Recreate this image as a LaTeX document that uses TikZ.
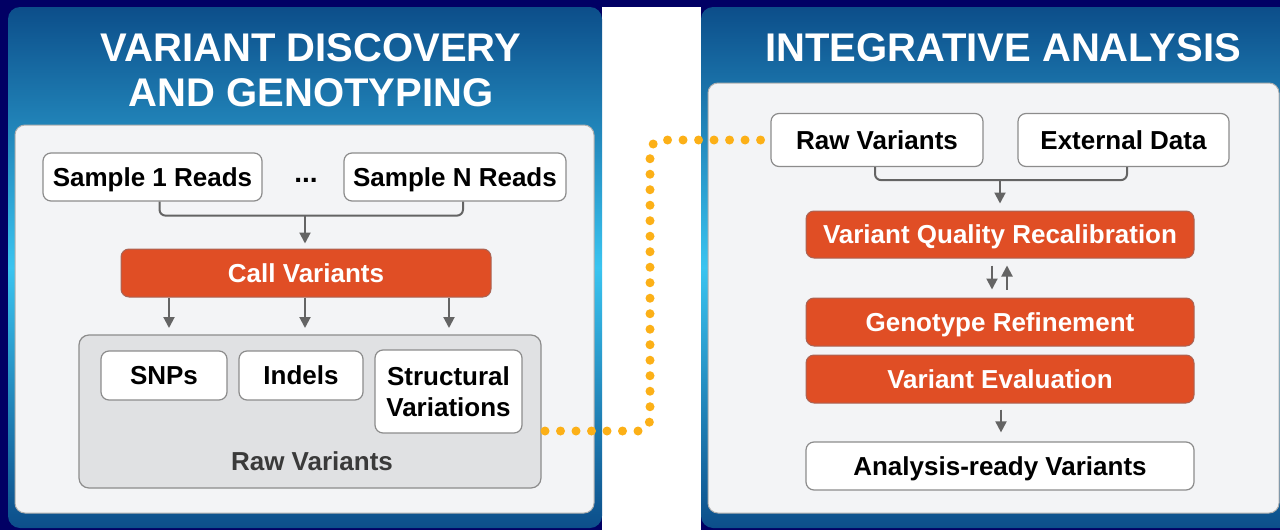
\documentclass[tikz,border=0pt]{standalone}
\usepackage{fontspec}
\setmainfont{Liberation Sans}
\usetikzlibrary{arrows.meta}
\definecolor{navy}{RGB}{1,0,100}
\definecolor{ptop}{RGB}{12,78,138}
\definecolor{pmid}{RGB}{58,196,240}
\definecolor{inner}{RGB}{243,244,246}
\definecolor{graybox}{RGB}{224,225,227}
\definecolor{bord}{RGB}{140,140,140}
\definecolor{orng}{RGB}{224,78,37}
\definecolor{dotc}{RGB}{252,176,23}
\definecolor{arrg}{RGB}{100,100,100}
\definecolor{lblgray}{RGB}{58,58,58}
\tikzset{
  txt/.style={font=\bfseries\fontsize{26}{31}\selectfont, text height=18.6pt, text depth=0pt, inner sep=0pt},
  wbox/.style={txt, draw=bord, fill=white, line width=1.2pt, rounded corners=8pt, text=black},
  obox/.style={txt, draw={rgb,255:red,170;green,100;blue,85}, fill=orng, line width=1pt, rounded corners=8pt, text=white},
  ttl/.style={font=\bfseries\fontsize{40}{46}\selectfont, text height=28.6pt, text depth=0pt, inner sep=0pt, text=white},
  arr/.style={draw=arrg, line width=2pt, -{Triangle[length=11pt,width=11pt]}},
  brk/.style={draw=arrg, line width=2pt, rounded corners=6pt},
  dotline/.style={draw=dotc, line width=9pt, line cap=round, dash pattern=on 0pt off 15.5pt, rounded corners=12pt},
  panel/.style={rounded corners=12pt, top color=ptop, bottom color=ptop, middle color=pmid},
}
\begin{document}
\begin{tikzpicture}[x=1pt,y=-1pt]
\useasboundingbox (0,0) rectangle (1280,530);
\clip (0,0) rectangle (1280,530);
% background
\fill[navy] (0,0) rectangle (1280,530);
\fill[white] (602,7) rectangle (701,530);
% panels
\shade[panel] (8,7) rectangle (602,528);
\shade[panel] (701,7) rectangle (1300,528);
\filldraw[fill=inner, draw=bord!70, line width=1pt, rounded corners=10pt] (15,125) rectangle (594,513);
\filldraw[fill=inner, draw=bord!70, line width=1pt, rounded corners=10pt] (708,83) rectangle (1279,513);
% titles
\node[ttl] (t1) at (311,47.5) {VARIANT DISCOVERY};
\node[ttl] (t2) at (311,92) {AND GENOTYPING};
\node[ttl] (t3) at (1003,47.5) {INTEGRATIVE ANALYSIS};
% left content
\node[wbox, minimum width=219pt, minimum height=48pt] (s1) at (152.5,177) {Sample 1 Reads};
\node[font=\bfseries\fontsize{28}{31}\selectfont, inner sep=0pt] (ell) at (306,180) {...};
\node[wbox, minimum width=222pt, minimum height=48pt] (sN) at (455,177) {Sample N Reads};
\node[obox, minimum width=370pt, minimum height=48pt] (call) at (306,273) {Call Variants};
\draw[brk] ([xshift=7pt]s1.south) -- ++(0,14) -- ([xshift=8pt,yshift=-14pt]sN.south) -- ([xshift=8pt]sN.south);
\coordinate (bj) at (305,215);
\draw[arr] (bj) -- ([xshift=-1pt,yshift=5pt]call.north);
\node[fill=graybox, draw=bord, line width=1.2pt, rounded corners=10pt, minimum width=462pt, minimum height=153pt, inner sep=0pt] (raw) at (310,411.5) {};
\node[wbox, minimum width=126pt, minimum height=49pt] (snp) at (164,375.5) {SNPs};
\node[wbox, minimum width=124pt, minimum height=49pt] (ind) at (301,375.5) {Indels};
\node[draw=bord, fill=white, line width=1.2pt, rounded corners=8pt, text=black, font=\bfseries\fontsize{26}{31}\selectfont, align=center, inner sep=0pt, minimum width=147pt, minimum height=83pt] (sv) at (448.5,391.5) {Structural\\Variations};
\node[txt, text=lblgray] (rawl) at (312,461) {Raw Variants};
\draw[arr] (call.south -| 169,0) -- (169,328);
\draw[arr] (call.south -| 305,0) -- (305,328);
\draw[arr] (call.south -| 449,0) -- (449,328);
% right content
\node[wbox, minimum width=212pt, minimum height=53pt] (rv) at (877,140) {Raw Variants};
\node[wbox, minimum width=211pt, minimum height=53pt] (ext) at (1123.5,140) {External Data};
\node[obox, minimum width=388pt, minimum height=47pt] (vqr) at (1000,234.5) {Variant Quality Recalibration};
\node[obox, minimum width=388pt, minimum height=48pt] (gr) at (1000,322) {Genotype Refinement};
\node[obox, minimum width=388pt, minimum height=48pt] (ve) at (1000,379) {Variant Evaluation};
\node[wbox, minimum width=388pt, minimum height=48pt] (ar) at (1000,466) {Analysis-ready Variants};
\draw[brk] ([xshift=-2pt]rv.south) -- ++(0,13) -- ([xshift=3.5pt,yshift=-13pt]ext.south) -- ([xshift=3.5pt]ext.south);
\coordinate (bj2) at (1000,180);
\draw[arr] (bj2) -- ([yshift=7pt]vqr.north);
\draw[arr] ([xshift=-8pt,yshift=-7pt]vqr.south) -- ([xshift=-8pt,yshift=8pt]gr.north);
\draw[arr] ([xshift=7pt,yshift=8pt]gr.north) -- ([xshift=7pt,yshift=-7pt]vqr.south);
\draw[arr] ([xshift=1pt,yshift=-6pt]ve.south) -- ([xshift=1pt,yshift=9pt]ar.north);
% dotted connector
\coordinate (d0) at (545,431);
\draw[dotline] (d0) -- (650,431) -- (650,140) -- (rv.west);
\end{tikzpicture}
\end{document}
